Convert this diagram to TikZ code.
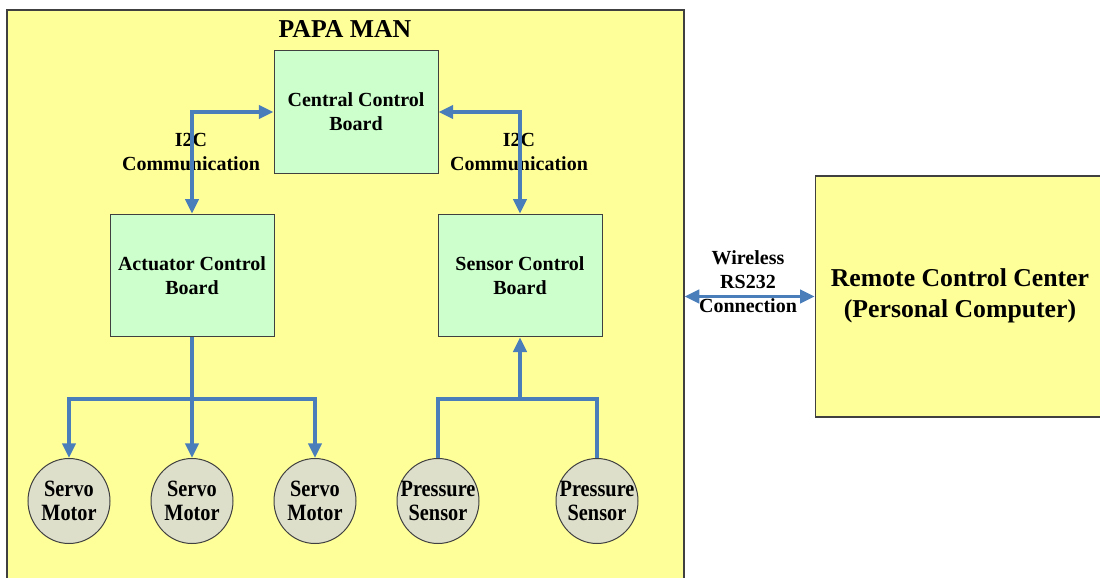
\documentclass[tikz,border=0pt]{standalone}
\usepackage{fontspec}
\setmainfont{Liberation Serif}
\newfontfamily\narrowserif[FakeStretch=0.87]{Liberation Serif}
\usetikzlibrary{arrows.meta,shapes.geometric}

\definecolor{sysyellow}{HTML}{FFFF99}
\definecolor{boardgreen}{HTML}{CCFFCC}
\definecolor{devicegray}{HTML}{DDDFCB}
\definecolor{edgegray}{HTML}{404040}
\definecolor{linkblue}{HTML}{4A7EBB}

\newcommand\labelfont{\fontsize{15}{18}\selectfont\bfseries}
\newcommand\devicefont{\narrowserif\fontsize{17.5}{18}\selectfont\bfseries}
\newcommand\bigfont{\fontsize{19.3}{23.3}\selectfont\bfseries}

\begin{document}
\begin{tikzpicture}[x=0.75pt,y=-0.75pt,
  container/.style={draw=edgegray, line width=0.9pt, fill=sysyellow, inner sep=0pt},
  board/.style={draw=edgegray, line width=0.75pt, fill=boardgreen, align=center,
    font=\labelfont, inner sep=0pt, minimum width=123pt, minimum height=92pt},
  device/.style={ellipse, draw=edgegray, line width=0.75pt, fill=devicegray, align=center,
    font=\devicefont, inner xsep=-7pt, inner ysep=0pt,
    minimum width=61.5pt, minimum height=63.75pt},
  tag/.style={align=center, font=\labelfont, inner sep=0pt},
  tip/.tip={Triangle[length=11pt,width=10pt]},
  conn/.style={draw=linkblue, line width=2.4pt, line join=miter}]

\useasboundingbox (0,0) rectangle (1100,578);

% robot enclosure and remote station
\node[container, minimum width=507.75pt, minimum height=435pt] (papa) at (345.5,300) {};
\node[font=\bigfont, inner sep=0pt] (title) at (345,29) {PAPA MAN};
\node[container, minimum width=220pt, minimum height=180.75pt] (remote) at (962,296.5) {};
\node[align=center, font=\bigfont, inner sep=0pt] (remotetext) at (960,296)
      {Remote Control Center\\(Personal Computer)};

% control boards
\node[board] (central)  at (356,112)   {Central Control\\Board};
\node[board] (actuator) at (192,275.5) {Actuator Control\\Board};
\node[board] (sensor)   at (520,275.5) {Sensor Control\\Board};

% motors and sensors
\node[device] (servoA) at (69,501)  {Servo\\Motor};
\node[device] (servoB) at (192,501) {Servo\\Motor};
\node[device] (servoC) at (315,501) {Servo\\Motor};
\node[device] (pressA) at (438,501) {Pressure\\Sensor};
\node[device] (pressB) at (597,501) {Pressure\\Sensor};

% link labels
\node[tag] (i2cL) at (191,152) {I2C\\Communication};
\node[tag] (i2cR) at (519,152) {I2C\\Communication};
\node[tag] (rf)   at (748,282) {Wireless\\RS232\\Connection};

% bus junctions
\coordinate (abus) at (actuator.south |- 0,399);
\coordinate (sbus) at (sensor.south |- 0,399);

% I2C links
\draw[conn, tip-tip] (central.west) -| (actuator.north);
\draw[conn, tip-tip] (central.east) -| (sensor.north);

% actuator fan-out
\draw[conn, -tip] (actuator.south) -- (servoB.north);
\draw[conn, -tip] (abus) -| (servoA.north);
\draw[conn, -tip] (abus) -| (servoC.north);

% sensor fan-in
\draw[conn] (pressA.north) |- (sbus);
\draw[conn] (pressB.north) |- (sbus);
\draw[conn, -tip] (sbus) -- (sensor.south);

% wireless link
\draw[conn, tip-tip] (remote.west) -- (remote.west -| papa.east);

\end{tikzpicture}
\end{document}
